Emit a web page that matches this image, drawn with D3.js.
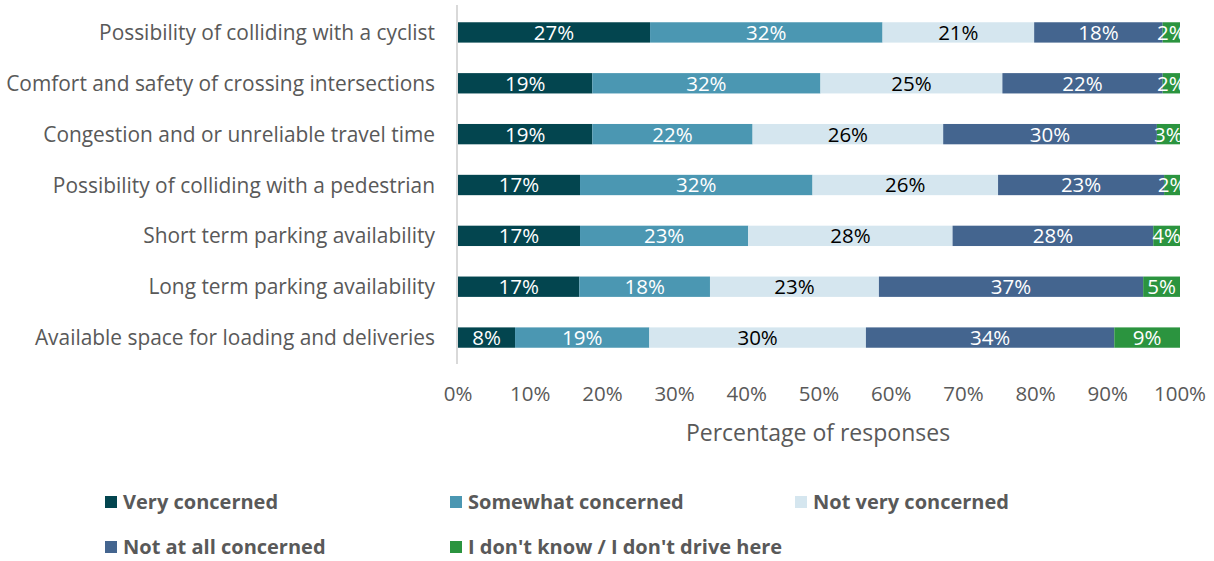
<!DOCTYPE html>
<html>
<head>
<meta charset="utf-8">
<script src="https://cdn.jsdelivr.net/npm/d3@7"></script>
<style>
  body { margin: 0; background: #fff; }
  svg text { font-family: "Open Sans", Lato, sans-serif; }
</style>
</head>
<body>
<svg id="chart" width="1214" height="561"></svg>
<script>
var categories = [
  "Possibility of colliding with a cyclist",
  "Comfort and safety of crossing intersections",
  "Congestion and or unreliable travel time",
  "Possibility of colliding with a pedestrian",
  "Short term parking availability",
  "Long term parking availability",
  "Available space for loading and deliveries"
];
var seriesNames = ["Very concerned", "Somewhat concerned", "Not very concerned", "Not at all concerned", "I don't know / I don't drive here"];
var veryConcerned = [26.6, 18.6, 18.6, 16.9, 16.9, 16.8, 7.9];
var somewhatConcerned = [32.2, 31.6, 22.2, 32.2, 23.3, 18.1, 18.6];
var notVeryConcerned = [21.0, 25.2, 26.4, 25.7, 28.3, 23.4, 30.0];
var notAtAllConcerned = [17.8, 22.2, 29.6, 23.0, 27.8, 36.6, 34.4];
var dontKnow = [2.4, 2.4, 3.2, 2.2, 3.7, 5.1, 9.1];
var xTicks = [0, 10, 20, 30, 40, 50, 60, 70, 80, 90, 100];

var colors = ["#03454f", "#4b97b2", "#d5e6ef", "#44658f", "#2b943f"];
var labelColors = ["#fff", "#fff", "#000", "#fff", "#fff"];
var allSeries = [veryConcerned, somewhatConcerned, notVeryConcerned, notAtAllConcerned, dontKnow];

var svg = d3.select("#chart");
var x = d3.scaleLinear().domain([0, 100]).range([458, 1180]);
var y = d3.scaleBand().domain(categories).range([7, 363]).paddingInner(0.6).paddingOuter(0.3);

var rows = categories.map(function (c, i) {
  var r = { cat: c };
  seriesNames.forEach(function (s, j) { r[s] = allSeries[j][i]; });
  return r;
});
var stacked = d3.stack().keys(seriesNames)(rows);

var groups = svg.selectAll("g.series").data(stacked).enter().append("g")
  .attr("class", "series")
  .attr("fill", function (d, i) { return colors[i]; });

groups.selectAll("rect").data(function (d) { return d; }).enter().append("rect")
  .attr("x", function (d) { return x(d[0]); })
  .attr("y", function (d) { return y(d.data.cat); })
  .attr("width", function (d) { return x(d[1]) - x(d[0]); })
  .attr("height", y.bandwidth());

groups.each(function (s, i) {
  d3.select(this).selectAll("text").data(s).enter().append("text")
    .attr("x", function (d) { return (x(d[0]) + x(d[1])) / 2; })
    .attr("y", function (d) { return y(d.data.cat) + y.bandwidth() / 2; })
    .attr("dy", "0.36em")
    .attr("text-anchor", "middle")
    .attr("fill", labelColors[i])
    .style("font-size", "20.5px")
    .text(function (d) { return Math.round(d[1] - d[0]) + "%"; });
});

// vertical axis line
svg.append("line")
  .attr("x1", 457).attr("x2", 457)
  .attr("y1", 5).attr("y2", 364)
  .attr("stroke", "#d9d9d9").attr("stroke-width", 2);

// category labels
svg.selectAll("text.cat").data(categories).enter().append("text")
  .attr("class", "cat")
  .attr("x", 435)
  .attr("y", function (d) { return y(d) + y.bandwidth() / 2; })
  .attr("dy", "0.36em")
  .attr("text-anchor", "end")
  .attr("fill", "#595959")
  .style("font-size", "20.9px")
  .text(function (d) { return d; });

// x tick labels
svg.selectAll("text.tick").data(xTicks).enter().append("text")
  .attr("class", "tick")
  .attr("x", function (d) { return x(d); })
  .attr("y", 394)
  .attr("dy", "0.36em")
  .attr("text-anchor", "middle")
  .attr("fill", "#595959")
  .style("font-size", "20.5px")
  .text(function (d) { return d + "%"; });

svg.append("text")
  .attr("x", 818).attr("y", 433)
  .attr("dy", "0.36em")
  .attr("text-anchor", "middle")
  .attr("fill", "#595959")
  .style("font-size", "23px")
  .text("Percentage of responses");

// legend
var legendPos = [[105, 502], [450, 502], [795, 502], [105, 547], [450, 547]];
var legend = svg.selectAll("g.legend").data(seriesNames).enter().append("g")
  .attr("class", "legend")
  .attr("transform", function (d, i) { return "translate(" + legendPos[i][0] + "," + legendPos[i][1] + ")"; });
legend.append("rect")
  .attr("x", 0).attr("y", -6).attr("width", 12).attr("height", 12)
  .attr("fill", function (d, i) { return colors[i]; });
legend.append("text")
  .attr("x", 18).attr("dy", "0.36em")
  .attr("fill", "#595959")
  .style("font-size", "20px")
  .style("font-weight", "bold")
  .text(function (d) { return d; });
</script>
</body>
</html>
